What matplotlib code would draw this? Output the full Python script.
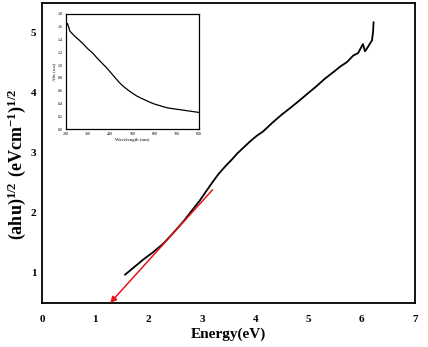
import matplotlib.pyplot as plt
import numpy as np

plt.rcParams["font.family"] = ["Liberation Serif", "DejaVu Serif"]
plt.rcParams["mathtext.fontset"] = "custom"
plt.rcParams["mathtext.rm"] = "Liberation Serif"
plt.rcParams["mathtext.bf"] = "Liberation Serif:bold"

# Tauc plot, (ahu)^1/2 against photon energy
energy = [1.56, 1.75, 1.90, 2.08, 2.27, 2.45, 2.65, 2.80, 2.96, 3.10, 3.21, 3.32,
          3.45, 3.56, 3.66, 3.78, 3.90, 4.02, 4.15, 4.33, 4.50, 4.66, 4.84, 5.00,
          5.15, 5.30, 5.46, 5.60, 5.72, 5.84, 5.93, 6.02, 6.06, 6.12, 6.16, 6.19,
          6.21, 6.22]
tauc = [0.97, 1.11, 1.22, 1.34, 1.48, 1.65, 1.85, 2.02, 2.20, 2.38, 2.52, 2.65,
        2.78, 2.88, 2.98, 3.08, 3.18, 3.27, 3.35, 3.50, 3.63, 3.74, 3.87, 3.99,
        4.10, 4.22, 4.33, 4.43, 4.50, 4.61, 4.65, 4.80, 4.68, 4.76, 4.82, 4.86,
        5.00, 5.16]

# linear fit extrapolated to the energy axis
fit_start = (3.20, 2.38)
fit_end = (1.28, 0.50)

# absorbance spectrum for the inset
wavelength = [200, 203, 207, 212, 218, 240, 260, 278, 300, 320, 338, 360, 380,
              398, 420, 440, 458, 480, 500, 518, 540, 560, 578, 600, 620, 638,
              660, 680, 698, 720, 740, 760, 780, 800]
absorb = [1.56, 1.63, 1.65, 1.60, 1.53, 1.45, 1.39, 1.33, 1.25, 1.19, 1.12, 1.04,
          0.97, 0.90, 0.81, 0.73, 0.67, 0.61, 0.56, 0.52, 0.48, 0.45, 0.42, 0.39,
          0.37, 0.35, 0.33, 0.32, 0.31, 0.30, 0.29, 0.28, 0.27, 0.26]

fig = plt.figure(figsize=(4.28, 3.47), dpi=100)
ax = fig.add_axes([0.098, 0.127, 0.872, 0.864])
ax.plot(energy, tauc, color="k", linewidth=1.3)
ax.annotate("", xy=fit_end, xytext=fit_start,
            arrowprops=dict(arrowstyle="-|>", color="#e8141b", linewidth=1.1,
                            mutation_scale=9, shrinkA=0, shrinkB=0))
ax.set_xlim(0, 7)
ax.set_ylim(0.5, 5.48)
ax.set_xticks(range(0, 8))
ax.set_yticks(range(1, 6))
ax.tick_params(length=0, labelsize=8)
ax.tick_params(axis="x", pad=9)
ax.tick_params(axis="y", pad=4)
for lab in ax.get_xticklabels() + ax.get_yticklabels():
    lab.set_fontweight("bold")
for s in ax.spines.values():
    s.set_linewidth(1.3)
ax.set_xlabel("Energy(eV)", fontsize=11, fontweight="bold", labelpad=2)
ax.set_ylabel(r"$\mathbf{(ahu)^{1/2}\ (eVcm^{-1})^{1/2}}$", fontsize=13)
ax.yaxis.set_label_coords(-0.038, 0.463)

ins = fig.add_axes([0.154, 0.628, 0.311, 0.332])
ins.plot(wavelength, absorb, color="k", linewidth=0.9)
ins.set_xlim(200, 800)
ins.set_ylim(0.0, 1.8)
ins.set_xticks(np.arange(200, 801, 100))
ins.set_yticks(np.arange(0, 1.81, 0.2))
ins.set_yticklabels([f"{v:.1f}" for v in np.arange(0, 1.81, 0.2)])
ins.tick_params(length=0, labelsize=3, pad=2)
for s in ins.spines.values():
    s.set_linewidth(0.9)
ins.set_xlabel("Wavelength (nm)", fontsize=3.5, labelpad=1.5)
ins.set_ylabel("Abs (a.u)", fontsize=3.5, labelpad=1.5)

fig.savefig("out.png", dpi=100)
